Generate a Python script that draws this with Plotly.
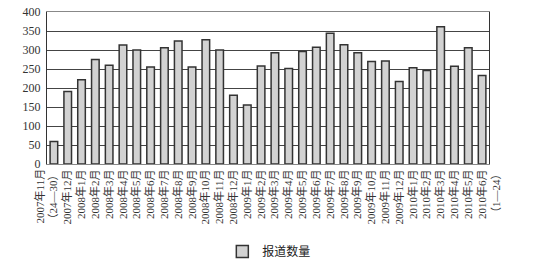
import plotly.graph_objects as go

months = ["（24—30）", "2007年12月",
          "2008年1月", "2008年2月", "2008年3月", "2008年4月", "2008年5月", "2008年6月",
          "2008年7月", "2008年8月", "2008年9月", "2008年10月", "2008年11月", "2008年12月",
          "2009年1月", "2009年2月", "2009年3月", "2009年4月", "2009年5月", "2009年6月",
          "2009年7月", "2009年8月", "2009年9月", "2009年10月", "2009年11月", "2009年12月",
          "2010年1月", "2010年2月", "2010年3月", "2010年4月", "2010年5月", "2010年6月"]
# extra label lines: (category index, pixel shift, text)
extra_labels = [(0, -14, "2007年11月"), (31, 14, "（1—24）")]
counts = [59, 191, 222, 275, 260, 313, 300, 255, 306, 324, 255, 327, 300, 181, 155, 258,
          293, 251, 296, 307, 344, 314, 293, 270, 271, 217, 253, 246, 361, 257, 306, 233]
y_ticks = [0, 50, 100, 150, 200, 250, 300, 350, 400]

font_fam = "Liberation Serif, Noto Sans CJK SC, serif"

fig = go.Figure()
fig.add_trace(go.Bar(
    x=list(range(len(counts))), y=counts, name="报道数量",
    marker=dict(color="#d2d2d2", line=dict(color="#333333", width=1.5)),
    width=0.55,
))

for xi, shift, txt in extra_labels:
    fig.add_annotation(x=xi, y=0, xref="x", yref="paper", text=txt, textangle=-90,
                       showarrow=False, xanchor="center", yanchor="top",
                       xshift=shift, yshift=-2,
                       font=dict(size=11, family=font_fam, color="#333333"))

fig.update_layout(
    width=535, height=263,
    margin=dict(l=47, r=46, t=12, b=99, autoexpand=False),
    paper_bgcolor="white", plot_bgcolor="white",
    font=dict(family=font_fam, color="#222222", size=12),
    showlegend=True,
    legend=dict(orientation="h", x=0.503, xanchor="center", y=-0.575, yanchor="middle",
                font=dict(size=12, family=font_fam), itemwidth=30),
    xaxis=dict(
        tickmode="array", tickvals=list(range(len(counts))), ticktext=months,
        tickangle=-90, tickfont=dict(size=11, family=font_fam, color="#333333"),
        range=[-0.5, len(counts) - 0.5], automargin=False,
        showline=True, linecolor="#888888", linewidth=1, mirror=True,
        showgrid=False, ticks="", zeroline=False,
    ),
    yaxis=dict(
        tickmode="array", tickvals=y_ticks, range=[0, 400], automargin=False,
        tickfont=dict(size=12, family=font_fam, color="#333333"),
        showline=True, linecolor="#333333", linewidth=1, mirror=True,
        showgrid=True, gridcolor="#444444", gridwidth=1,
        ticks="", zeroline=False, ticklabelstandoff=3,
    ),
)

fig.write_html("out.html")
